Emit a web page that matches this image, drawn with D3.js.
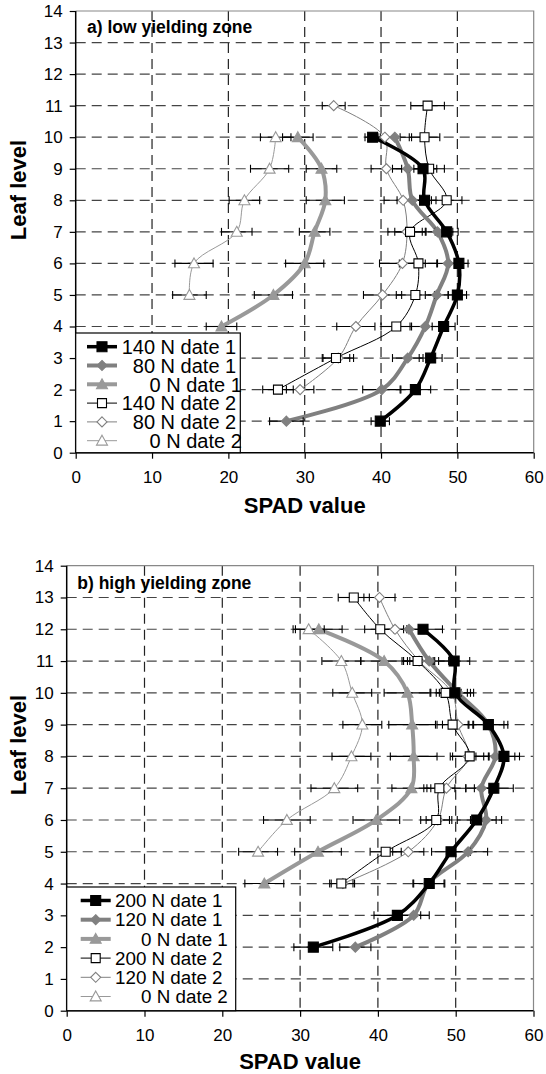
<!DOCTYPE html>
<html>
<head>
<meta charset="utf-8">
<script src="https://cdn.jsdelivr.net/npm/d3@7"></script>
<style>
  body { margin: 0; background: #fff; }
  text { font-family: Arial, "Liberation Sans", sans-serif; }
</style>
</head>
<body>
<svg id="chart" width="546" height="1074"></svg>
<script>
// ---- data: panel a (low yielding zone) ----
var aNames = ["140 N date 1", "  80 N date 1", "     0 N date 1", "140 N date 2", "  80 N date 2", "     0 N date 2"];
var a140d1Lev = [1, 2, 3, 4, 5, 6, 7, 8, 9, 10];
var a140d1Val = [39.9, 44.5, 46.5, 48.2, 50.0, 50.2, 48.6, 45.7, 45.5, 38.9];
var a140d1Err = [1.2, 2.0, 1.5, 1.5, 1.2, 1.2, 1.5, 1.5, 1.8, 1.0];
var a80d1Lev = [1, 2, 3, 4, 5, 6, 7, 8, 9, 10];
var a80d1Val = [27.6, 40.1, 43.5, 45.8, 47.3, 48.8, 47.4, 44.1, 43.5, 41.8];
var a80d1Err = [2.2, 2.5, 2.0, 2.0, 1.5, 1.5, 2.0, 2.0, 2.0, 2.2];
var a0d1Lev = [4, 5, 6, 7, 8, 9, 10];
var a0d1Val = [19.1, 25.9, 30.0, 31.3, 32.7, 32.2, 29.1];
var a0d1Err = [2.0, 2.5, 2.5, 2.0, 2.5, 2.0, 2.0];
var a140d2Lev = [2, 3, 4, 5, 6, 7, 8, 9, 10, 11];
var a140d2Val = [26.5, 34.1, 42.0, 44.5, 44.9, 43.8, 48.6, 46.3, 45.7, 46.1];
var a140d2Err = [2.0, 1.8, 2.0, 2.5, 2.5, 2.0, 2.0, 2.0, 2.0, 2.2];
var a80d2Lev = [2, 3, 4, 5, 6, 7, 8, 9, 10, 11];
var a80d2Val = [29.4, 34.4, 36.7, 40.2, 42.8, 43.4, 42.9, 40.7, 40.5, 33.8];
var a80d2Err = [1.8, 2.0, 2.5, 2.5, 3.0, 2.5, 2.5, 2.0, 2.0, 1.5];
var a0d2Lev = [5, 6, 7, 8, 9, 10];
var a0d2Val = [14.9, 15.5, 21.1, 22.1, 25.4, 26.2];
var a0d2Err = [2.2, 2.5, 2.0, 2.0, 2.5, 2.0];

// ---- data: panel b (high yielding zone) ----
var bNames = ["200 N date 1", "120 N date 1", "     0 N date 1", "200 N date 2", "120 N date 2", "     0 N date 2"];
var b200d1Lev = [2, 3, 4, 5, 6, 7, 8, 9, 10, 11, 12];
var b200d1Val = [31.7, 42.5, 46.6, 49.4, 52.7, 54.9, 56.2, 54.2, 49.9, 49.8, 45.8];
var b200d1Err = [2.5, 3.0, 2.0, 2.5, 2.5, 2.5, 2.0, 2.0, 2.0, 2.0, 2.5];
var b120d1Lev = [2, 3, 4, 5, 6, 7, 8, 9, 10, 11, 12];
var b120d1Val = [37.1, 44.6, 46.5, 51.6, 53.9, 53.3, 55.1, 54.2, 50.3, 46.6, 44.0];
var b120d1Err = [2.0, 2.0, 2.0, 2.5, 2.0, 2.0, 2.5, 2.5, 2.0, 2.5, 2.0];
var b0d1Lev = [4, 5, 6, 7, 8, 9, 10, 11, 12];
var b0d1Val = [25.4, 32.3, 39.8, 44.3, 44.6, 44.4, 43.8, 40.8, 32.4];
var b0d1Err = [2.5, 3.0, 3.0, 2.5, 3.0, 3.0, 3.0, 3.0, 3.0];
var b200d2Lev = [4, 5, 6, 7, 8, 9, 10, 11, 12, 13];
var b200d2Val = [35.3, 41.0, 47.5, 47.9, 51.8, 49.6, 48.7, 45.1, 40.3, 36.9];
var b200d2Err = [1.5, 2.0, 2.0, 2.0, 2.5, 2.0, 2.0, 2.0, 2.0, 2.0];
var b120d2Lev = [4, 5, 6, 7, 8, 9, 10, 11, 12, 13];
var b120d2Val = [35.5, 43.9, 47.7, 48.8, 51.6, 50.3, 49.5, 45.3, 42.2, 40.2];
var b120d2Err = [1.5, 2.0, 1.5, 2.5, 2.0, 2.0, 2.0, 2.0, 1.5, 2.0];
var b0d2Lev = [5, 6, 7, 8, 9, 10, 11, 12];
var b0d2Val = [24.6, 28.3, 34.4, 36.6, 38.0, 36.7, 35.3, 31.1];
var b0d2Err = [2.5, 3.0, 3.0, 2.5, 2.5, 2.5, 2.5, 2.0];

var xTicks = [0, 10, 20, 30, 40, 50, 60];
var yTicks = [0, 1, 2, 3, 4, 5, 6, 7, 8, 9, 10, 11, 12, 13, 14];

// styles for the 6 series (same order in both panels)
var styles = [
  {stroke: "#000", width: 3.5, marker: "square", fill: "#000", mstroke: "#000", size: 10},
  {stroke: "#808080", width: 4, marker: "diamond", fill: "#808080", mstroke: "#808080", size: 10},
  {stroke: "#999", width: 4, marker: "triangle", fill: "#999", mstroke: "#999", size: 11},
  {stroke: "#000", width: 1, marker: "square", fill: "#fff", mstroke: "#000", size: 9},
  {stroke: "#808080", width: 1, marker: "diamond", fill: "#fff", mstroke: "#808080", size: 10},
  {stroke: "#999", width: 1, marker: "triangle", fill: "#fff", mstroke: "#999", size: 11}
];

function pack(lev, val, err) {
  return lev.map(function(l, i) { return {lev: l, val: val[i], err: err[i]}; });
}

var panelA = {
  title: "a) low yielding zone", names: aNames,
  series: [pack(a140d1Lev, a140d1Val, a140d1Err), pack(a80d1Lev, a80d1Val, a80d1Err), pack(a0d1Lev, a0d1Val, a0d1Err),
           pack(a140d2Lev, a140d2Val, a140d2Err), pack(a80d2Lev, a80d2Val, a80d2Err), pack(a0d2Lev, a0d2Val, a0d2Err)],
  left: 75.7, right: 533.7, top: 11, bottom: 452.7,
  legend: {x: 75.7, y: 333, w: 164.6, rowY: 346.7, row: 18.8, lineX: 87, textX: 121.7, font: 20},
  titleX: 87, titleY: 32.5, yLabelY: 190, xLabelY: 513
};
var panelB = {
  title: "b) high yielding zone", names: bNames,
  series: [pack(b200d1Lev, b200d1Val, b200d1Err), pack(b120d1Lev, b120d1Val, b120d1Err), pack(b0d1Lev, b0d1Val, b0d1Err),
           pack(b200d2Lev, b200d2Val, b200d2Err), pack(b120d2Lev, b120d2Val, b120d2Err), pack(b0d2Lev, b0d2Val, b0d2Err)],
  left: 66.7, right: 533.5, top: 565.7, bottom: 1010.7,
  legend: {x: 66.7, y: 887, w: 169, rowY: 900.5, row: 19.2, lineX: 80.7, textX: 115, font: 18.8},
  titleX: 77.3, titleY: 589, yLabelY: 745, xLabelY: 1069
};

function markerPath(type, s) {
  var h = s / 2;
  if (type === "square") return "M" + (-h) + "," + (-h) + "h" + s + "v" + s + "h" + (-s) + "Z";
  if (type === "diamond") return "M0," + (-h) + "L" + h + ",0L0," + h + "L" + (-h) + ",0Z";
  return "M0," + (-h) + "L" + h + "," + (h * 0.8) + "L" + (-h) + "," + (h * 0.8) + "Z";
}

var svg = d3.select("#chart");

function drawPanel(p) {
  var x = d3.scaleLinear().domain([0, 60]).range([p.left, p.right]);
  var y = d3.scaleLinear().domain([0, 14]).range([p.bottom, p.top]);
  var g = svg.append("g");

  // grid
  g.selectAll(".hgrid").data(yTicks.filter(function(t) { return t > 0 && t < 14; }))
    .enter().append("line")
    .attr("x1", p.left).attr("x2", p.right)
    .attr("y1", function(d) { return y(d); }).attr("y2", function(d) { return y(d); })
    .attr("stroke", "#444").attr("stroke-width", 1.2).attr("stroke-dasharray", "10,6");
  g.selectAll(".vgrid").data(xTicks.filter(function(t) { return t > 0 && t < 60; }))
    .enter().append("line")
    .attr("y1", p.top).attr("y2", p.bottom)
    .attr("x1", function(d) { return x(d); }).attr("x2", function(d) { return x(d); })
    .attr("stroke", "#222").attr("stroke-width", 1.2).attr("stroke-dasharray", "10,6");
  // top/right border
  g.append("path")
    .attr("d", "M" + p.left + "," + p.top + "H" + p.right + "V" + p.bottom)
    .attr("fill", "none").attr("stroke", "#888").attr("stroke-width", 1.2);

  // title
  g.append("text").attr("x", p.titleX).attr("y", p.titleY)
    .attr("font-size", 17.5).attr("font-weight", "bold").text(p.title);

  // axes
  var yAxis = d3.axisLeft(y).tickValues(yTicks).tickSize(6).tickPadding(7);
  var xAxis = d3.axisBottom(x).tickValues(xTicks).tickSize(6).tickPadding(12);
  var ya = g.append("g").attr("transform", "translate(" + p.left + ",0)").call(yAxis);
  var xa = g.append("g").attr("transform", "translate(0," + p.bottom + ")").call(xAxis);
  [ya, xa].forEach(function(a) {
    a.select(".domain").attr("stroke", "#000").attr("stroke-width", 1.5);
    a.selectAll(".tick line").attr("stroke", "#000").attr("stroke-width", 1.2);
    a.selectAll(".tick text").attr("font-size", 17).attr("fill", "#000")
      .style("font-family", "Arial, 'Liberation Sans', sans-serif");
  });
  xa.selectAll(".domain").attr("d", "M" + p.left + ",0H" + p.right);
  ya.selectAll(".domain").attr("d", "M0," + p.top + "V" + p.bottom);

  // series: lines, error bars, markers
  var line = d3.line().curve(d3.curveCatmullRom.alpha(0.5))
    .x(function(d) { return x(d.val); }).y(function(d) { return y(d.lev); });
  var order = [5, 4, 3, 2, 1, 0];
  order.forEach(function(i) {
    var s = p.series[i], st = styles[i];
    g.append("path").datum(s).attr("d", line)
      .attr("fill", "none").attr("stroke", st.stroke).attr("stroke-width", st.width)
      .attr("stroke-linejoin", "round");
  });
  order.forEach(function(i) {
    var s = p.series[i];
    var eb = g.append("g").attr("stroke", "#000").attr("stroke-width", 1.1);
    eb.selectAll(".bar").data(s).enter().append("line")
      .attr("x1", function(d) { return x(d.val - d.err); }).attr("x2", function(d) { return x(d.val + d.err); })
      .attr("y1", function(d) { return y(d.lev); }).attr("y2", function(d) { return y(d.lev); });
    eb.selectAll(".capl").data(s).enter().append("line")
      .attr("x1", function(d) { return x(d.val - d.err); }).attr("x2", function(d) { return x(d.val - d.err); })
      .attr("y1", function(d) { return y(d.lev) - 4; }).attr("y2", function(d) { return y(d.lev) + 4; });
    eb.selectAll(".capr").data(s).enter().append("line")
      .attr("x1", function(d) { return x(d.val + d.err); }).attr("x2", function(d) { return x(d.val + d.err); })
      .attr("y1", function(d) { return y(d.lev) - 4; }).attr("y2", function(d) { return y(d.lev) + 4; });
  });
  order.forEach(function(i) {
    var s = p.series[i], st = styles[i];
    g.selectAll(null).data(s).enter().append("path")
      .attr("transform", function(d) { return "translate(" + x(d.val) + "," + y(d.lev) + ")"; })
      .attr("d", markerPath(st.marker, st.size))
      .attr("fill", st.fill).attr("stroke", st.mstroke).attr("stroke-width", 1.1);
  });

  // legend
  var L = p.legend;
  var lg = g.append("g");
  lg.append("rect").attr("x", L.x).attr("y", L.y).attr("width", L.w).attr("height", p.bottom - L.y)
    .attr("fill", "#fff").attr("stroke", "#000").attr("stroke-width", 1.2);
  p.names.forEach(function(name, i) {
    var st = styles[i], cy = L.rowY + i * L.row;
    lg.append("line").attr("x1", L.lineX).attr("x2", L.lineX + 30).attr("y1", cy).attr("y2", cy)
      .attr("stroke", st.stroke).attr("stroke-width", st.width);
    lg.append("path").attr("transform", "translate(" + (L.lineX + 15) + "," + cy + ")")
      .attr("d", markerPath(st.marker, st.size))
      .attr("fill", st.fill).attr("stroke", st.mstroke).attr("stroke-width", 1.1);
    lg.append("text").attr("x", L.textX).attr("y", cy + L.font * 0.36)
      .attr("font-size", L.font).style("white-space", "pre").attr("xml:space", "preserve").text(name);
  });

  // axis titles
  g.append("text").attr("transform", "translate(26," + p.yLabelY + ") rotate(-90)")
    .attr("text-anchor", "middle").attr("font-size", 22).attr("font-weight", "bold").text("Leaf level");
  g.append("text").attr("x", (p.left + p.right) / 2).attr("y", p.xLabelY)
    .attr("text-anchor", "middle").attr("font-size", 22).attr("font-weight", "bold").text("SPAD value");
}

drawPanel(panelA);
drawPanel(panelB);
</script>
</body>
</html>
